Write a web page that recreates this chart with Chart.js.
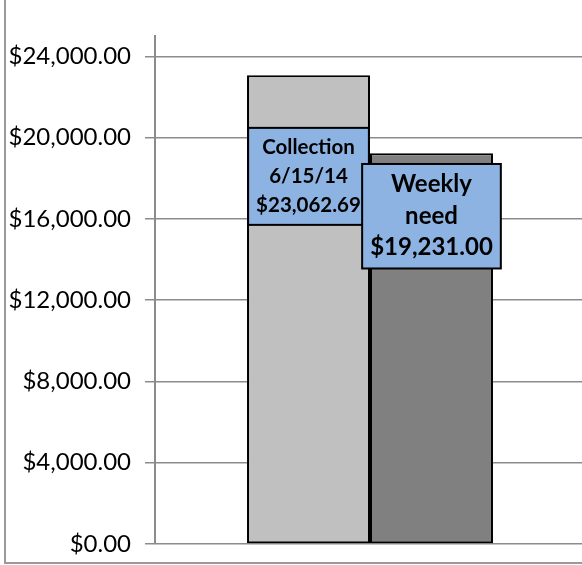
<!DOCTYPE html>
<html>
<head>
<meta charset="utf-8">
<script src="https://cdn.jsdelivr.net/npm/chart.js@4.4.0/dist/chart.umd.min.js"></script>
<style>
  html, body { margin: 0; padding: 0; background: #fff; overflow: hidden; width: 582px; height: 565px; }
  #frame { position: absolute; left: 4px; top: -20px; width: 640px; height: 580px; border: 2px solid #9a9a9a; }
  #chart { position: absolute; left: 0; top: 0; }
</style>
</head>
<body>
<div id="frame">
  <canvas id="chart" width="579" height="580"></canvas>
</div>
<script>
const categories = ['']
const seriesNames = [['Collection', '6/15/14'], ['Weekly', 'need']]
const seriesValues = [23062.69, 19231.00]
const tickValues = [0, 4000, 8000, 12000, 16000, 20000, 24000]
const axisMax = 25000

const barColors = ['#c0c0c0', '#808080']
const labelFontSize = [20.5, 24]
const labelLineHeight = [29, 31.5]
const labelOffsetY = [101, 63]

function money(v) {
    return '$' + v.toLocaleString('en-US', { minimumFractionDigits: 2, maximumFractionDigits: 2 })
}

// boxed data labels like the Excel callouts
const boxLabels = {
    id: 'boxLabels',
    afterDatasetsDraw(chart) {
        const ctx = chart.ctx
        chart.data.datasets.forEach(function (ds, i) {
            const el = chart.getDatasetMeta(i).data[0]
            const lines = seriesNames[i].concat([money(ds.data[0])])
            ctx.save()
            ctx.font = 'bold ' + labelFontSize[i] + 'px Lato'
            let w = 0
            lines.forEach(function (l) { w = Math.max(w, ctx.measureText(l).width) })
            const lh = labelLineHeight[i]
            const bw = w + 16
            const bh = lines.length * lh + 10
            const cx = el.x
            const cy = el.y + labelOffsetY[i]
            ctx.fillStyle = '#8db3e2'
            ctx.fillRect(cx - bw / 2, cy - bh / 2, bw, bh)
            ctx.lineWidth = 2
            ctx.strokeStyle = '#000'
            ctx.strokeRect(cx - bw / 2, cy - bh / 2, bw, bh)
            ctx.fillStyle = '#000'
            ctx.textAlign = 'center'
            ctx.textBaseline = 'middle'
            lines.forEach(function (l, k) {
                ctx.fillText(l, cx, cy - (lines.length - 1) * lh / 2 + k * lh)
            })
            ctx.restore()
        })
    }
}

new Chart(document.getElementById('chart'), {
    type: 'bar',
    data: {
        labels: categories,
        datasets: seriesValues.map(function (v, i) {
            return {
                label: seriesNames[i].join(' '),
                data: [v],
                backgroundColor: barColors[i],
                borderColor: '#000',
                borderWidth: 2,
                borderSkipped: false,
                categoryPercentage: 0.572,
                barPercentage: 1
            }
        })
    },
    options: {
        responsive: false,
        animation: false,
        devicePixelRatio: 1,
        layout: { padding: { top: 54, bottom: 18, left: 0, right: 0 } },
        plugins: {
            legend: { display: false },
            tooltip: { enabled: false }
        },
        scales: {
            x: { display: false },
            y: {
                min: 0,
                max: axisMax,
                afterBuildTicks(scale) {
                    scale.ticks = tickValues.map(function (v) { return { value: v } })
                },
                afterFit(scale) {
                    scale.width = 149
                    scale.paddingTop = 0
                    scale.paddingBottom = 0
                },
                grid: {
                    color: '#8c8c8c',
                    lineWidth: 1.5,
                    tickLength: 10,
                    drawTicks: true
                },
                border: { color: '#8c8c8c', width: 2 },
                ticks: {
                    padding: 14,
                    color: '#000',
                    font: { family: 'Lato', size: 24 },
                    callback: function (v) { return money(v) }
                }
            }
        }
    },
    plugins: [boxLabels]
});
</script>
</body>
</html>
